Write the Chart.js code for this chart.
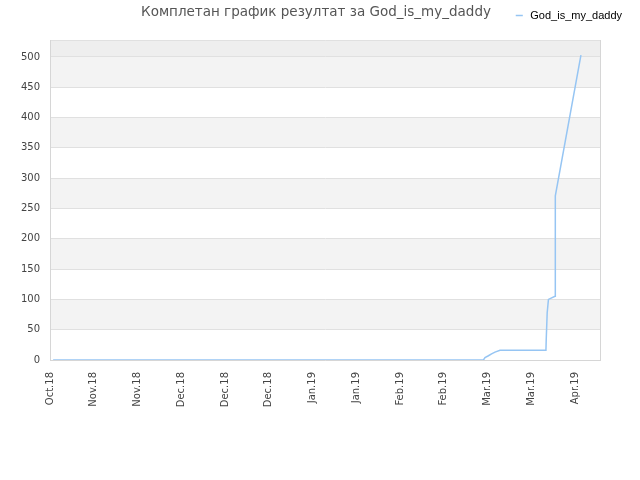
<!DOCTYPE html>
<html>
<head>
<meta charset="utf-8">
<script src="https://cdn.jsdelivr.net/npm/chart.js@4"></script>
<style>
html,body{margin:0;padding:0;background:#fff;}
#wrap{width:640px;height:480px;}
</style>
</head>
<body>
<div id="wrap"><canvas id="c" width="640" height="480"></canvas></div>
<script>
// ---- data ----
const chartTitle = 'Комплетан график резултат за God_is_my_daddy';
const seriesName = 'God_is_my_daddy';
// day offsets from the first tick (Oct 20, 2018)
const dayOffsets = [1, 138.7, 139.2, 140.3, 141.3, 142.4, 144, 158.7, 158.8, 159.1, 159.5, 161.6, 161.7, 169.9];
const scores     = [0, 0,     4,     7,     10,    13,    16,  16,    35,    78,    100,   105,   271,   503];
const tickLabels = ['Oct.18','Nov.18','Nov.18','Dec.18','Dec.18','Dec.18','Jan.19','Jan.19','Feb.19','Feb.19','Mar.19','Mar.19','Apr.19'];
const tickStepDays = 14;
const xMaxDays = 176;
const yMax = 528;
const yStep = 50;

const points = dayOffsets.map((d, i) => ({x: d, y: scores[i]}));

const bandPlugin = {
  id: 'bands',
  beforeDraw(chart) {
    const {ctx, chartArea, scales} = chart;
    const y = scales.y;
    const ticks = y.ticks;
    ctx.save();
    for (let i = 0; i < ticks.length - 1; i++) {
      const lo = ticks[i].value, hi = ticks[i + 1].value;
      let color = null;
      if (hi - lo < yStep) color = '#eeeeee';
      else if (i % 2 === 1) color = '#f3f3f3';
      if (!color) continue;
      const top = y.getPixelForValue(hi), bot = y.getPixelForValue(lo);
      ctx.fillStyle = color;
      ctx.fillRect(chartArea.left, top, chartArea.right - chartArea.left, bot - top);
    }
    ctx.restore();
  }
};

new Chart(document.getElementById('c'), {
  type: 'line',
  data: {
    datasets: [{
      label: seriesName,
      data: points,
      borderColor: 'rgb(150,197,243)',
      backgroundColor: 'rgb(150,197,243)',
      borderWidth: 1.5,
      pointRadius: 0,
      pointStyle: 'line',
      tension: 0,
      fill: false
    }]
  },
  options: {
    responsive: false,
    animation: false,
    devicePixelRatio: 1,
    layout: {padding: {left: 0, right: 8, top: 0, bottom: 0}},
    plugins: {
      title: {
        display: true,
        text: chartTitle,
        color: '#555555',
        font: {family: 'DejaVu Sans', size: 13.5, weight: 'normal'},
        padding: {top: 4.5, bottom: -20.7}
      },
      legend: {
        display: true,
        position: 'top',
        align: 'end',
        labels: {
          color: '#000000',
          font: {family: 'Liberation Sans', size: 11},
          usePointStyle: true,
          pointStyle: 'line',
          boxHeight: 5,
          padding: 10
        }
      },
      tooltip: {enabled: false}
    },
    scales: {
      x: {
        type: 'linear',
        position: 'bottom',
        min: 0,
        max: xMaxDays,
        afterFit: s => { s.height = 120; },
        grid: {display: false, drawTicks: false},
        border: {display: true, color: '#d6d6d6'},
        ticks: {
          stepSize: tickStepDays,
          includeBounds: false,
          autoSkip: false,
          minRotation: 90,
          maxRotation: 90,
          padding: 12,
          color: '#444444',
          font: {family: 'DejaVu Sans', size: 10},
          callback: v => (v % tickStepDays === 0 && tickLabels[v / tickStepDays] !== undefined) ? tickLabels[v / tickStepDays] : ''
        }
      },
      xTop: {
        type: 'linear',
        position: 'top',
        display: true,
        afterFit: s => { s.height = 9; },
        grid: {display: false, drawTicks: false},
        border: {display: false},
        ticks: {display: false}
      },
      y: {
        type: 'linear',
        position: 'left',
        min: 0,
        max: yMax,
        afterFit: s => { s.width = 50; },
        grid: {color: '#e0e0e0', drawTicks: false},
        border: {display: true, color: '#d6d6d6'},
        ticks: {
          stepSize: yStep,
          padding: 10,
          color: '#444444',
          font: {family: 'DejaVu Sans', size: 10},
          callback: v => (v % yStep === 0 ? String(v) : '')
        }
      },
      yRight: {
        type: 'linear',
        position: 'right',
        display: true,
        afterFit: s => { s.width = 32; },
        grid: {display: false, drawTicks: false},
        border: {display: true, color: '#d6d6d6'},
        ticks: {display: false}
      }
    }
  },
  plugins: [bandPlugin]
});
</script>
</body>
</html>
